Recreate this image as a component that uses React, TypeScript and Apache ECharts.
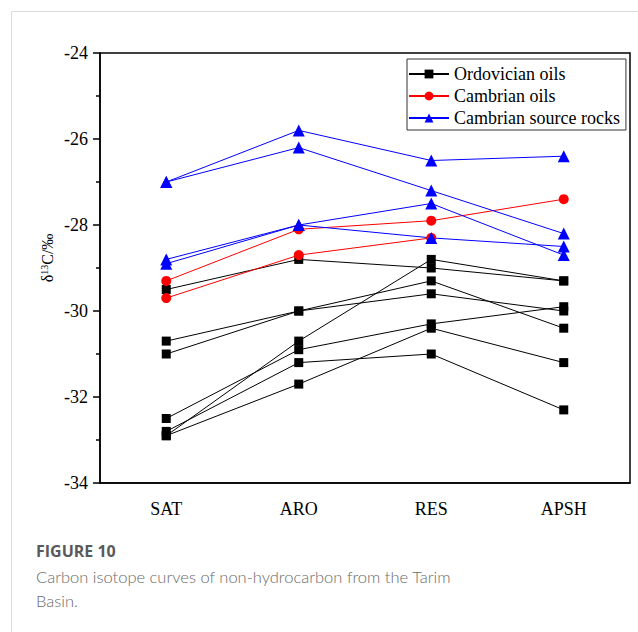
import React, { useEffect, useRef } from "react";
import * as echarts from "echarts";

const categories = ["SAT", "ARO", "RES", "APSH"];

// Ordovician oils (black squares), one line per sample
const ordovicianOils: number[][] = [
  [-29.5, -28.8, -29.0, -29.3],
  [-30.7, -30.0, -29.3, -30.4],
  [-31.0, -30.0, -29.6, -30.0],
  [-32.9, -30.7, -28.8, -29.3],
  [-32.5, -30.9, -30.3, -29.9],
  [-32.8, -31.2, -31.0, -32.3],
  [-32.9, -31.7, -30.4, -31.2],
];

// Cambrian oils (red circles)
const cambrianOils: (number | null)[][] = [
  [-29.3, -28.1, -27.9, -27.4],
  [-29.7, -28.7, -28.3, null],
];

// Cambrian source rocks (blue triangles)
const cambrianSourceRocks: number[][] = [
  [-27.0, -25.8, -26.5, -26.4],
  [-27.0, -26.2, -27.2, -28.2],
  [-28.8, -28.0, -27.5, -28.7],
  [-28.9, -28.0, -28.3, -28.5],
];

const legendNames = ["Ordovician oils", "Cambrian oils", "Cambrian source rocks"];
const yMin = -34;
const yMax = -24;
const yInterval = 2;

const SERIF = "'Liberation Serif', 'Times New Roman', serif";

export default function App() {
  const ref = useRef<HTMLDivElement>(null);

  useEffect(() => {
    if (!ref.current) return;
    const chart = echarts.init(ref.current, undefined, { renderer: "svg" });

    const mk = (
      name: string,
      data: (number | null)[],
      color: string,
      symbol: string,
      size: number
    ) => ({
      name,
      type: "line",
      data,
      symbol,
      symbolSize: size,
      showSymbol: true,
      connectNulls: false,
      lineStyle: { color, width: 1 },
      itemStyle: { color },
      emphasis: { disabled: true },
    });

    const series: any[] = [
      ...ordovicianOils.map((d) => mk(legendNames[0], d, "#000000", "rect", 9)),
      ...cambrianOils.map((d) => mk(legendNames[1], d, "#ff0000", "circle", 10)),
      ...cambrianSourceRocks.map((d) => mk(legendNames[2], d, "#0000ff", "triangle", 12)),
    ];

    chart.setOption({
      animation: false,
      backgroundColor: "#ffffff",
      grid: {
        left: 100,
        right: 8,
        top: 53,
        bottom: 149,
        show: true,
        borderColor: "#000",
        borderWidth: 1.5,
        backgroundColor: "transparent",
      },
      legend: {
        data: legendNames,
        orient: "vertical",
        left: 407,
        top: 59,
        itemWidth: 40,
        itemHeight: 11,
        itemGap: 4,
        padding: [6, 6, 3, 1],
        borderColor: "#333",
        borderWidth: 1,
        backgroundColor: "#fff",
        selectedMode: false,
        textStyle: { fontFamily: SERIF, fontSize: 18, color: "#000" },
      },
      xAxis: {
        type: "category",
        data: categories,
        boundaryGap: true,
        axisLine: { lineStyle: { color: "#000", width: 1.5 } },
        axisTick: { alignWithLabel: true, length: 6, lineStyle: { color: "#000", width: 1.5 } },
        axisLabel: { fontFamily: SERIF, fontSize: 18, color: "#000", margin: 17 },
        splitLine: { show: false },
      },
      yAxis: {
        type: "value",
        min: yMin,
        max: yMax,
        interval: yInterval,
        axisLine: { show: true, lineStyle: { color: "#000", width: 1.5 } },
        axisTick: { show: true, length: 7, lineStyle: { color: "#000", width: 1.5 } },
        minorTick: { show: true, splitNumber: 2, length: 4, lineStyle: { color: "#000", width: 1.5 } },
        axisLabel: { fontFamily: SERIF, fontSize: 18, color: "#000", margin: 12 },
        splitLine: { show: false },
      },
      graphic: [
        {
          type: "rect",
          z: -10,
          shape: { x: 11.5, y: 11.5, width: 700, height: 700 },
          style: { fill: "none", stroke: "#dcdcdc", lineWidth: 1 },
          silent: true,
        },
        {
          type: "text",
          x: 47,
          y: 258,
          rotation: Math.PI / 2,
          style: {
            text: "{a|δ}{s|13}{a|C/‰}",
            align: "center",
            verticalAlign: "middle",
            rich: {
              a: { fontFamily: SERIF, fontSize: 16, fill: "#000", color: "#000" },
              s: { fontFamily: SERIF, fontSize: 10, fill: "#000", color: "#000", verticalAlign: "top", padding: [0, 0, 6, 0] },
            },
          },
        },
        {
          type: "text",
          left: 36,
          top: 543,
          style: {
            text: "FIGURE 10",
            font: "bold 16px 'Open Sans', sans-serif",
            fill: "#5a5a5a",
          },
        },
        {
          type: "text",
          left: 36,
          top: 565,
          style: {
            text: "Carbon isotope curves of non-hydrocarbon from the Tarim\nBasin.",
            font: "300 16.5px Lato, sans-serif",
            lineHeight: 24,
            fill: "#6a6a6a",
          },
        },
      ],
      series,
    });

    return () => chart.dispose();
  }, []);

  return (
    <div
      ref={ref}
      style={{ position: "fixed", left: 0, top: 0, width: 638, height: 632, background: "#fff" }}
    />
  );
}
